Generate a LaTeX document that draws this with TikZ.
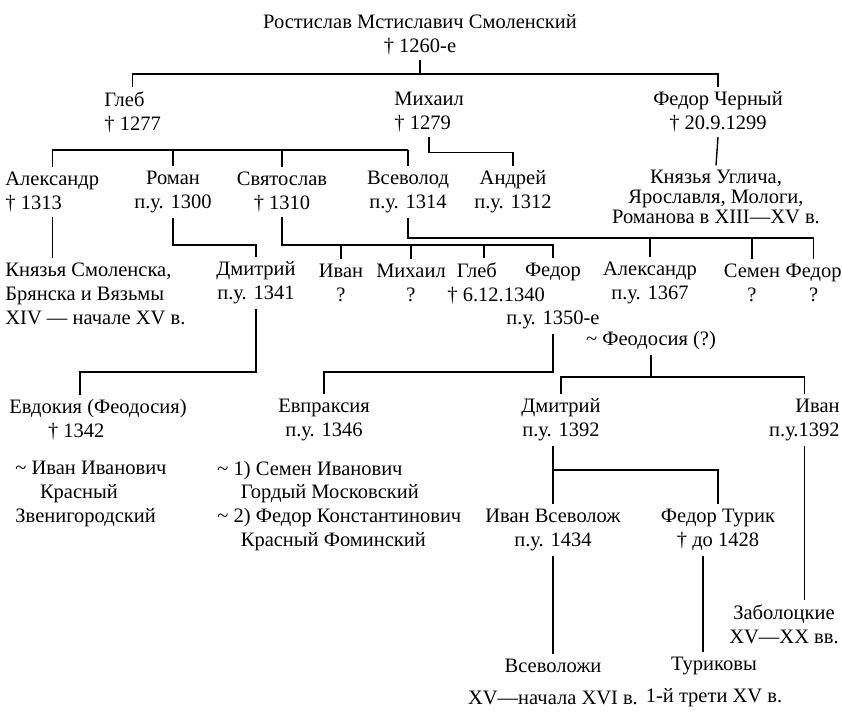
\documentclass[tikz,border=0pt]{standalone}
\usepackage{fontspec}
\setmainfont{Liberation Serif}
\usetikzlibrary{calc}

\newcommand{\marr}{\char"007E\ }

\begin{document}
\begin{tikzpicture}[x=0.03cm,y=-0.03cm,
    person/.style={align=center,inner xsep=1pt,inner ysep=4pt,
      font=\fontsize{17.5}{20.4}\selectfont},
    kin/.style={line width=1.2pt}]
  \useasboundingbox (0,0) rectangle (842,712);

  % founder and his sons
  \node[person] (root) at (420,35) {Ростислав Мстиславич Смоленский\\† 1260-е};
  \node[person,anchor=west,align=left] (gleb) at (103,112) {Глеб\\† 1277};
  \node[person,anchor=west,align=left] (mikhail) at (393,112) {Михаил\\† 1279};
  \node[person] (fedorch) at (718,112) {Федор Черный\\† 20.9.1299};
  \coordinate (topbar) at (420,74);
  \draw[kin] (root.south) -- (topbar);
  \draw[kin] (gleb.north) |- (topbar) -| (fedorch.north);

  % grandsons
  \node[person,anchor=west,align=left] (aleks) at (4,192) {Александр\\† 1313};
  \node[person] (roman) at (173,192) {Роман\\п.у. 1300};
  \node[person] (svyat) at (282,192) {Святослав\\† 1310};
  \node[person] (vsev) at (408,192) {Всеволод\\п.у. 1314};
  \node[person] (andrei) at (513,192) {Андрей\\п.у. 1312};
  \node[person,font=\fontsize{17.5}{17}\selectfont] (uglich) at (716,197)
    {Князья Углича,\\Ярославля, Мологи,\\Романова в XIII—XV в.};
  \coordinate (glebbar) at (0,150);
  \draw[kin] (aleks.north |- glebbar) -- (vsev.north |- glebbar);
  \foreach \n in {aleks,roman,svyat,vsev}
    \draw[kin] (\n.north |- glebbar) -- (\n.north);
  \draw[kin] (mikhail.south) -- ++(0,16) -| (andrei.north);
  \draw[kin] (fedorch.south) -- (uglich.north);

  % fourth generation
  \node[person,anchor=west,align=left] (smol) at (4,294)
    {Князья Смоленска,\\Брянска и Вязьмы\\XIV — начале XV в.};
  \node[person] (dmitr) at (256,283) {Дмитрий\\п.у. 1341};
  \node[person] (ivan) at (341,283) {Иван\\?};
  \node[person] (mikh) at (411,283) {Михаил\\?};
  \node[person,anchor=west,align=left] (glebb) at (446,283) {\hspace*{8pt}Глеб\\† 6.12.1340};
  \node[person] (fedor) at (553,296) {Федор\\\mbox{}\\п.у. 1350-е};
  \node[person] (aleksb) at (650,283) {Александр\\п.у. 1367};
  \node[person] (semen) at (752,283) {Семен\\?};
  \node[person,anchor=east] (fedorb) at (843,283) {Федор\\?};
  \node[person] (feodosia) at (651,341) {\marr Феодосия (?)};
  \draw[kin] (aleks.south) -- (aleks.south |- smol.north);
  \coordinate (svbar) at (0,245);
  \draw[kin] (roman.south) |- (dmitr.north |- svbar) -- (dmitr.north);
  \draw[kin] (svyat.south) |- (fedor.north |- svbar) -- (fedor.north);
  \foreach \n in {ivan,mikh}
    \draw[kin] (\n.north |- svbar) -- (\n.north);
  \coordinate (glebtop) at ($(glebb.north west)+(38,0)$);
  \draw[kin] (glebtop |- svbar) -- (glebtop);
  \coordinate (vsbar) at (0,238);
  \draw[kin] (vsev.south) |- (fedorb.north |- vsbar) -- (fedorb.north);
  \foreach \n in {aleksb,semen}
    \draw[kin] (\n.north |- vsbar) -- (\n.north);

  % fifth generation
  \node[person,anchor=west,align=left] (evdokia) at (8,420) {Евдокия (Феодосия)\\\hspace*{33pt}† 1342};
  \node[person] (evpraksia) at (324,420) {Евпраксия\\п.у. 1346};
  \node[person] (dmitrc) at (561,420) {Дмитрий\\п.у. 1392};
  \node[person,anchor=east,align=right] (ivanc) at (841,420) {Иван\\п.у.1392};
  \coordinate (lowbar) at (0,372);
  \coordinate (evdtop) at ($(evdokia.north west)+(72,0)$);
  \draw[kin] (dmitr.south) |- (evdtop |- lowbar) -- (evdtop);
  \draw[kin] (fedor.south) |- (evpraksia.north |- lowbar) -- (evpraksia.north);
  \coordinate (feobar) at (0,377);
  \draw[kin] (feodosia.south) |- (dmitrc.north |- feobar) -- (dmitrc.north);
  \draw[kin] (feodosia.south |- feobar) -| (ivanc.north);

  % husbands
  \node[person,anchor=west,align=left] (spouse1) at (14,494)
    {\marr Иван Иванович\\\hspace*{21pt}Красный\\Звенигородский};
  \node[person,anchor=west,align=left] (spouse2) at (216,506)
    {\marr 1) Семен Иванович\\\hspace*{20pt}Гордый Московский\\\marr 2) Федор Константинович\\\hspace*{20pt}Красный Фоминский};

  % later lines
  \node[person] (ivanvs) at (553,530) {Иван Всеволож\\п.у. 1434};
  \node[person] (fedortur) at (718,530) {Федор Турик\\† до 1428};
  \coordinate (dmbar) at (0,470);
  \draw[kin] (dmitrc.south -| ivanvs.north) -- (ivanvs.north);
  \draw[kin] (ivanvs.north |- dmbar) -| (fedortur.north);
  \node[person] (zabol) at (784,624) {Заболоцкие\\XV—XX вв.};
  \draw[kin] (ivanc.south) -- (ivanc.south |- zabol.north);
  \node[person,font=\fontsize{17.5}{27}\selectfont] (vsevolozhi) at (553,682) {Всеволожи\\XV—начала XVI в.};
  \node[person,font=\fontsize{17.5}{27}\selectfont] (turikovy) at (714,682) {Туриковы\\1-й трети XV в.};
  \draw[kin] (ivanvs.south) -- (vsevolozhi.north);
  \coordinate (turtop) at ($(fedortur.south)+(-15,0)$);
  \draw[kin] (turtop) -- (turtop |- turikovy.north);
\end{tikzpicture}
\end{document}
